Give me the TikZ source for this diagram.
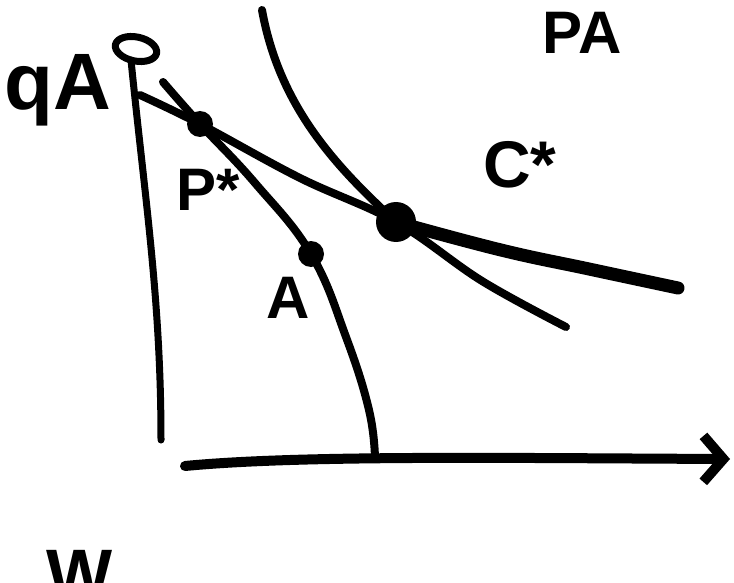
\documentclass[tikz,border=0pt]{standalone}
\usepackage{fontspec}
\setmainfont{Liberation Sans}
\usetikzlibrary{arrows.meta}

\begin{document}
\begin{tikzpicture}[x=1pt, y=-1pt,
    pen/.style={line width=8pt, line cap=round, line join=round},
    heavy/.style={line width=13pt, line cap=round, line join=round},
    dot/.style={circle, fill=black, inner sep=0pt, minimum size=#1},
    hand/.style={inner sep=0pt, font=\fontsize{#1}{#1}\selectfont\bfseries}]
    \useasboundingbox (0,0) rectangle (734,583);

    % Axes with the loop at the top
    \coordinate (ytop) at (131,60);
    \coordinate (ybot) at (161,440);
    \coordinate (xleft) at (185,466);
    \coordinate (xright) at (730,459);
    \coordinate (ictop) at (262,10);
    \draw[pen, line width=7pt, rotate around={-12:(136,49)}] (136,49) ellipse (21 and 12);
    \draw[pen, line width=7pt] (ytop) .. controls (145,200) and (161,300) .. (ybot);
    \draw[pen, line width=10pt, -{Straight Barb[length=20pt, width=46pt]}]
        (xleft) .. controls (300,455) and (500,458) .. (xright);

    % Tangency points
    \node[dot=26pt] (Pstar) at (200,124) {};
    \node[dot=40pt] (Cstar) at (396,222) {};
    \node[dot=26pt] (Apt) at (311,254) {};

    % Frontier, price line and indifference curve
    \draw[pen] plot[smooth, tension=0.7] coordinates
        {(163,82) (Pstar.center) (255,183) (Apt.center) (346,337) (369,410) (375,458)};
    \draw[pen] plot[smooth, tension=0.6] coordinates
        {(140,95) (Pstar.center) (300,178) (Cstar.center) (482,281) (566,327)};
    \draw[pen] (ictop) .. controls (280,110) and (340,170) .. (Cstar.center);
    \draw[heavy] plot[smooth, tension=0.7] coordinates
        {(Cstar.center) (501,250) (589,269) (678,288)};

    % Labels
    \node[hand=80] (qA) at (58,90) {qA};
    \node[hand=60] (pA) at (582,33) {PA};
    \node[hand=66] (Clab) at (520,165) {C*};
    \node[hand=60] (Plab) at (208,190) {P*};
    \node[hand=60] (Alab) at (288,298) {A};
    \node[hand=70, anchor=base] (W) at (80,598) {W};

\end{tikzpicture}
\end{document}
